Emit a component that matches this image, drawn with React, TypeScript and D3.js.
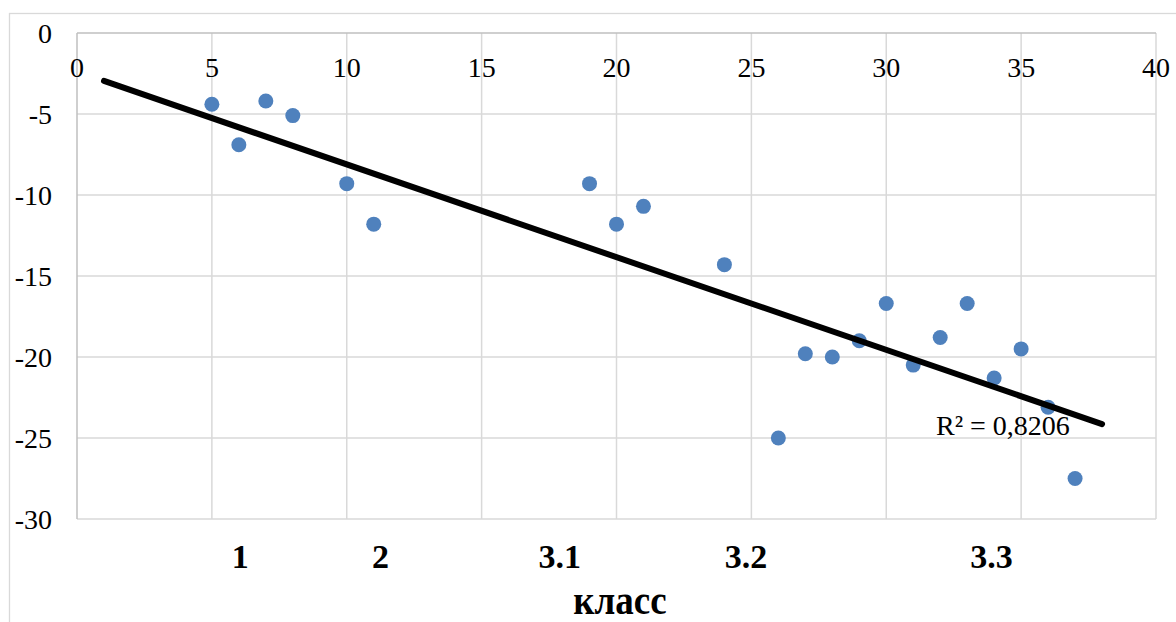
import React from "react";
import * as d3 from "d3";

// ---- data ----
const xValues = [5, 6, 7, 8, 10, 11, 19, 20, 21, 24, 26, 27, 28, 29, 30, 31, 32, 33, 34, 35, 36, 37];
const yValues = [-4.4, -6.9, -4.2, -5.1, -9.3, -11.8, -9.3, -11.8, -10.7, -14.3, -25, -19.8, -20, -19, -16.7, -20.5, -18.8, -16.7, -21.3, -19.5, -23.1, -27.5];
const xTicks = [0, 5, 10, 15, 20, 25, 30, 35, 40];
const yTicks = [0, -5, -10, -15, -20, -25, -30];
const categories = ["1", "2", "3.1", "3.2", "3.3"];
const categoryCenters = [6.05, 11.25, 17.9, 24.8, 33.9];
const trendX = [1, 38];
const trendY = [-2.96, -24.14];
const r2Label = "R² = 0,8206";
const xTitle = "класс";

const W = 1176;
const H = 622;
const FONT = "'Liberation Serif', 'Times New Roman', serif";

export default function App() {
  const x = d3.scaleLinear().domain([0, 40]).range([77, 1156]);
  const y = d3.scaleLinear().domain([0, -30]).range([33, 519]);
  const line = d3
    .line<number>()
    .x((d) => x(d))
    .y((_, i) => y(trendY[i]));

  return (
    <svg
      width={W}
      height={H}
      style={{ position: "absolute", left: 0, top: 0, background: "#fff" }}
      fontFamily={FONT}
    >
      <rect x={0} y={0} width={W} height={H} fill="#fff" />
      {/* outer frame */}
      <rect x={9.5} y={13.5} width={W} height={H} fill="none" stroke="#d9d9d9" strokeWidth={1.3} />
      {/* vertical gridlines */}
      {xTicks.map((t) =>
        t === 0 ? null : (
          <line key={"vx" + t} x1={x(t)} x2={x(t)} y1={y(0)} y2={y(-30)} stroke="#d9d9d9" strokeWidth={1.5} />
        )
      )}
      {/* horizontal gridlines */}
      {yTicks.map((t) =>
        t === 0 ? null : (
          <line key={"hy" + t} x1={x(0)} x2={x(40)} y1={y(t)} y2={y(t)} stroke="#d9d9d9" strokeWidth={1.5} />
        )
      )}
      {/* axes */}
      <line x1={x(0)} x2={x(40)} y1={y(0)} y2={y(0)} stroke="#bfbfbf" strokeWidth={1.5} />
      <line x1={x(0)} x2={x(0)} y1={y(0)} y2={y(-30)} stroke="#bfbfbf" strokeWidth={1.5} />
      {/* x tick labels */}
      {xTicks.map((t) => (
        <text key={"xt" + t} x={x(t)} y={y(0) + 44} textAnchor="middle" fontSize={28} fill="#000">
          {t}
        </text>
      ))}
      {/* y tick labels */}
      {yTicks.map((t) => (
        <text key={"yt" + t} x={52} y={y(t) + 9.5} textAnchor="end" fontSize={28} fill="#000">
          {t}
        </text>
      ))}
      {/* points */}
      {xValues.map((xv, i) => (
        <circle key={"p" + i} cx={x(xv)} cy={y(yValues[i])} r={7.5} fill="#4f81bd" />
      ))}
      {/* trend line */}
      <path d={line(trendX) || ""} fill="none" stroke="#000" strokeWidth={6} strokeLinecap="round" />
      <text x={936} y={435} fontSize={28} fill="#000">
        {r2Label}
      </text>
      {/* category labels */}
      {categories.map((c, i) => (
        <text
          key={"c" + i}
          x={x(categoryCenters[i])}
          y={568}
          textAnchor="middle"
          fontSize={34}
          fontWeight="bold"
          fill="#000"
        >
          {c}
        </text>
      ))}
      <g transform={`translate(620,614) scale(1,1.12)`}>
        <text x={0} y={0} textAnchor="middle" fontSize={37} fontWeight="bold" fill="#000">
          {xTitle}
        </text>
      </g>
    </svg>
  );
}
